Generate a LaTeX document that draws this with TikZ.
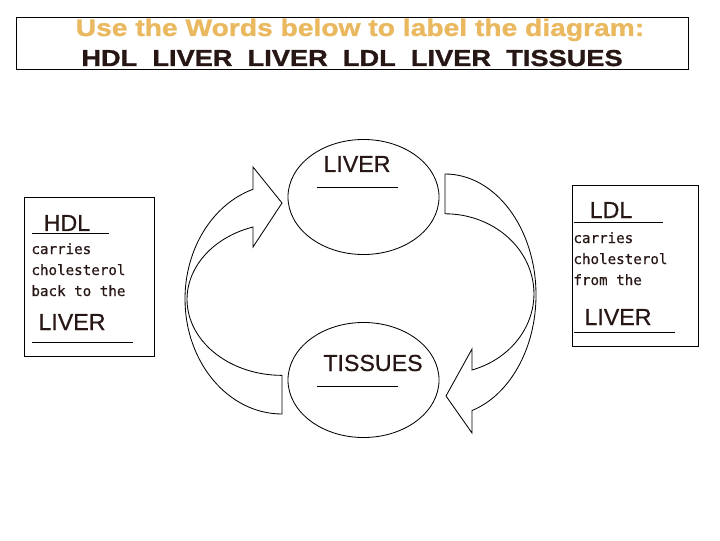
\documentclass[tikz,border=0pt]{standalone}
\usepackage{fontspec}
\setmainfont{Liberation Sans}
\newfontfamily\titlefont{Liberation Sans}[FakeStretch=1.18,FakeBold=1.2]
\newfontfamily\wordfont{Liberation Sans}[FakeBold=0.6]
\newfontfamily\notefont{DejaVu Sans Mono}[FakeBold=0.5]
\usetikzlibrary{shapes.geometric}
\definecolor{wordgold}{RGB}{234,184,94}
\definecolor{inkbrown}{RGB}{38,22,20}
\tikzset{
  organ/.style={draw,ellipse,minimum width=3.775cm,minimum height=2.875cm,inner sep=0pt},
  card/.style={draw,rectangle,inner sep=0pt},
  word/.style={anchor=base,inner sep=0pt,text=inkbrown,font=\wordfont\fontsize{16.5}{20}\selectfont},
  note/.style={anchor=base west,inner sep=0pt,text=inkbrown,font=\notefont\fontsize{10.1}{12}\selectfont},
  blank/.style={line width=0.5pt},
}
\begin{document}
\begin{tikzpicture}[x=0.025cm,y=0.025cm,line width=0.6pt]
    \useasboundingbox (0,0) rectangle (720,540);
    % word list
    \node[card,minimum width=16.775cm,minimum height=1.3cm] (titlebox) at (352.5,497) {};
    \node[anchor=base,inner sep=0pt,text=wordgold,font=\titlefont\bfseries\fontsize{17}{20}\selectfont] (titletop) at (360,504) {Use the Words below to label the diagram:};
    \node[anchor=base,inner sep=0pt,text=inkbrown,font=\titlefont\bfseries\fontsize{16.4}{20}\selectfont] (titlewords) at (352,474) {HDL\ \ LIVER\ \ LIVER\ \ LDL\ \ LIVER\ \ TISSUES};
    % organs
    \node[organ] (liver) at (363.5,343) {};
    \node[organ] (tissues) at (363.5,160) {};
    \node[word] (liverword) at (357,368) {LIVER};
    \node[word] (tissueword) at (373,169) {TISSUES};
    \draw[blank] (317,353) -- (398,353);
    \draw[blank] (317,154) -- (398,154);
    % curved arrows
    \draw (253,351) -- (253,373) -- (282,337) -- (253,293) -- (253,313)
      arc[start angle=107.8,end angle=270,x radius=95,y radius=76] -- (282,126)
      arc[start angle=270,end angle=107.4,x radius=97,y radius=115] -- cycle;
    \draw (445,366) arc[start angle=90,end angle=-72.7,x radius=91,y radius=121]
      -- (472,107) -- (446,144) -- (472,191) -- (472,170)
      arc[start angle=-72.3,end angle=90,x radius=89,y radius=80] -- cycle;
    % HDL card
    \node[card,minimum width=3.25cm,minimum height=3.975cm] (hdlbox) at (89,263.5) {};
    \node[word] (hdlword) at (67,309) {HDL};
    \draw[blank] (32,307) -- (109,307);
    \foreach \txt [count=\i] in {carries,cholesterol,back to the}
      \node[note] (hdlnote\i) at (31,{307-21*\i}) {\txt};
    \node[word] (hdlliver) at (72,210) {LIVER};
    \draw[blank] (32,198) -- (133,198);
    % LDL card
    \node[card,minimum width=3.15cm,minimum height=4.025cm] (ldlbox) at (635,274.5) {};
    \node[word] (ldlword) at (611,322) {LDL};
    \draw[blank] (574,318) -- (663,318);
    \foreach \txt [count=\i] in {carries,cholesterol,from the}
      \node[note] (ldlnote\i) at (573,{318-21*\i}) {\txt};
    \node[word] (ldlliver) at (618,215) {LIVER};
    \draw[blank] (574,208) -- (675,208);
\end{tikzpicture}
\end{document}
